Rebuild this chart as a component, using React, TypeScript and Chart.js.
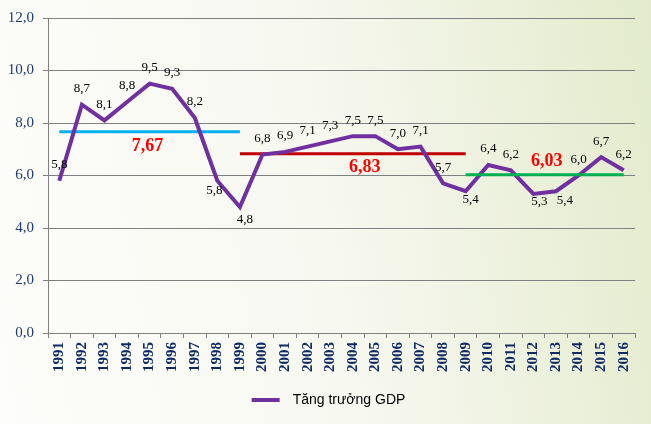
import React, { useEffect, useRef } from 'react';
import { Chart, registerables } from 'chart.js';

Chart.register(...registerables);

const years = ['1991', '1992', '1993', '1994', '1995', '1996', '1997', '1998', '1999', '2000', '2001', '2002', '2003', '2004', '2005', '2006', '2007', '2008', '2009', '2010', '2011', '2012', '2013', '2014', '2015', '2016'];
const gdpGrowth = [5.8, 8.7, 8.1, 8.8, 9.5, 9.3, 8.2, 5.8, 4.8, 6.8, 6.9, 7.1, 7.3, 7.5, 7.5, 7.0, 7.1, 5.7, 5.4, 6.4, 6.2, 5.3, 5.4, 6.0, 6.7, 6.2];
const periodAverages = [7.67, 6.83, 6.03];
const periodStart = ['1991', '1999', '2009'];
const periodEnd = ['1999', '2009', '2016'];
const yTicks = [0, 2, 4, 6, 8, 10, 12];
const seriesName = 'Tăng trưởng GDP';

const fmt = (v: number, d: number) => v.toFixed(d).replace('.', ',');

// styling of the average lines (colour, label offset, layer)
const avgStyles = [
  { color: '#00B0F0', dx: -2, dy: 15, above: false },
  { color: '#C00000', dx: 12, dy: 14, above: false },
  { color: '#00B050', dx: 2, dy: -13, above: true },
];

// label placement overrides per point index: [dx, dy]; default above
const labelOffsets: Record<number, [number, number]> = {
  7: [-3, 10],
  8: [5, 13],
  18: [5, 8],
  21: [6, 8],
  22: [9, 9],
};

function drawAverages(chart: any, above: boolean) {
  const { ctx, scales } = chart;
  const xs = scales.x;
  const ys = scales.y;
  ctx.save();
  periodAverages.forEach((v, i) => {
    const st = avgStyles[i];
    if (st.above !== above) return;
    const x1 = xs.getPixelForValue(years.indexOf(periodStart[i]));
    const x2 = xs.getPixelForValue(years.indexOf(periodEnd[i]));
    const y = ys.getPixelForValue(v);
    ctx.strokeStyle = st.color;
    ctx.lineWidth = 3;
    ctx.beginPath();
    ctx.moveTo(x1, y);
    ctx.lineTo(x2, y);
    ctx.stroke();
  });
  ctx.restore();
}

const averagesPlugin = {
  id: 'averages',
  beforeDatasetsDraw(chart: any) {
    drawAverages(chart, false);
  },
  afterDatasetsDraw(chart: any) {
    drawAverages(chart, true);
    const { ctx, scales } = chart;
    const xs = scales.x;
    const ys = scales.y;
    ctx.save();
    // data labels
    ctx.font = '13px "Liberation Serif"';
    ctx.fillStyle = '#000000';
    ctx.textAlign = 'center';
    ctx.textBaseline = 'middle';
    gdpGrowth.forEach((v, i) => {
      const x = xs.getPixelForValue(i);
      const y = ys.getPixelForValue(v);
      const off = labelOffsets[i] || [0, -16];
      ctx.fillText(fmt(v, 1), x + off[0], y + off[1]);
    });
    // average labels
    ctx.font = 'bold 18px "Liberation Serif"';
    ctx.fillStyle = '#FF0000';
    periodAverages.forEach((v, i) => {
      const st = avgStyles[i];
      const x1 = xs.getPixelForValue(years.indexOf(periodStart[i]));
      const x2 = xs.getPixelForValue(years.indexOf(periodEnd[i]));
      const y = ys.getPixelForValue(v);
      ctx.fillText(fmt(v, 2), (x1 + x2) / 2 + st.dx, y + st.dy);
    });
    ctx.restore();
  },
  afterDraw(chart: any) {
    // legend
    const { ctx, width } = chart;
    const ds = chart.data.datasets[0];
    ctx.save();
    ctx.font = '14px "Liberation Sans"';
    const tw = ctx.measureText(ds.label).width;
    const total = 28 + 13 + tw;
    const x0 = width / 2 + 3 - total / 2;
    const y = 400;
    ctx.fillStyle = ds.borderColor;
    ctx.fillRect(x0, y - 2, 28, 4);
    ctx.fillStyle = '#000000';
    ctx.textAlign = 'left';
    ctx.textBaseline = 'middle';
    ctx.fillText(ds.label, x0 + 41, y);
    ctx.restore();
  },
};

export default function App() {
  const ref = useRef<HTMLCanvasElement | null>(null);

  useEffect(() => {
    if (!ref.current) return;
    const chart = new Chart(ref.current, {
      type: 'line',
      data: {
        labels: years,
        datasets: [
          {
            label: seriesName,
            data: gdpGrowth,
            borderColor: '#7030A0',
            backgroundColor: '#7030A0',
            borderWidth: 4,
            pointRadius: 0,
            tension: 0,
            fill: false,
          },
        ],
      },
      options: {
        responsive: false,
        animation: false,
        layout: { padding: { left: 0, right: 16, top: 18, bottom: 41 } },
        plugins: {
          tooltip: { enabled: false },
          legend: { display: false },
        },
        scales: {
          x: {
            type: 'category',
            offset: true,
            afterFit: (s: any) => {
              s.height = 50;
            },
            grid: {
              display: true,
              drawOnChartArea: false,
              drawTicks: true,
              tickLength: 5,
              offset: true,
              color: '#808080',
            },
            border: { display: true, color: '#808080', width: 1 },
            ticks: {
              maxRotation: 90,
              minRotation: 90,
              autoSkip: false,
              padding: 4,
              color: '#0F2B66',
              font: { family: '"Liberation Serif"', size: 15, weight: 'bold' },
            },
          },
          y: {
            min: 0,
            max: 12,
            afterFit: (s: any) => {
              s.width = 48;
            },
            afterBuildTicks: (s: any) => {
              s.ticks = yTicks.map((v) => ({ value: v }));
            },
            grid: {
              color: '#808080',
              tickLength: 5,
              drawTicks: true,
            },
            border: { display: true, color: '#808080', width: 1 },
            ticks: {
              padding: 9,
              color: '#1F3B73',
              font: { family: '"Liberation Serif"', size: 15 },
              callback: (v: any) => fmt(Number(v), 1),
            },
          },
        },
      },
      plugins: [averagesPlugin],
    } as any);
    return () => chart.destroy();
  }, []);

  return (
    <div
      style={{
        position: 'absolute',
        left: 0,
        top: 0,
        width: 651,
        height: 424,
        background: 'linear-gradient(80deg, #fdfdfb 0%, #f7f8f0 50%, #e3ebcc 100%)',
      }}
    >
      <canvas ref={ref} width={651} height={424} style={{ display: 'block' }} />
    </div>
  );
}
